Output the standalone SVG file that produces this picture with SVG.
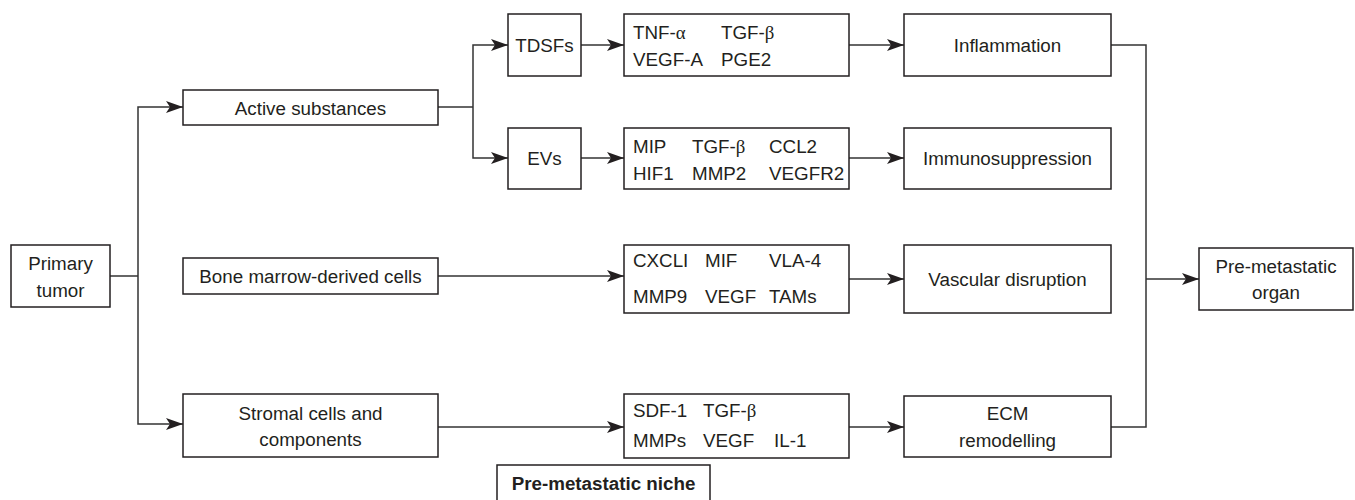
<svg xmlns="http://www.w3.org/2000/svg" width="1355" height="500" viewBox="0 0 1355 500">
<style>
text{font-family:"Liberation Sans",Arial,sans-serif;font-size:18.8px;fill:#231f20}
.c{text-anchor:middle}
.g{font-family:"Liberation Serif","Times New Roman",serif}
.b{font-weight:bold}
rect{fill:#fff;stroke:#231f20;stroke-width:1.5}
.ln{fill:none;stroke:#333;stroke-width:1.5}
</style>
<defs>
<marker id="ah" markerUnits="userSpaceOnUse" markerWidth="18" markerHeight="12" refX="17" refY="6" orient="auto">
<path d="M0,0 L17,6 L0,12 L4,6 Z" fill="#231f20"/>
</marker>
</defs>
<rect width="1355" height="500" style="fill:#fff;stroke:none"/>
<g id="connectors">
<path class="ln" d="M110,276 H138"/>
<path class="ln" d="M138,276 V107 H183" marker-end="url(#ah)"/>
<path class="ln" d="M138,276 V424 H183" marker-end="url(#ah)"/>
<path class="ln" d="M438,107 H473"/>
<path class="ln" d="M473,107 V45 H508" marker-end="url(#ah)"/>
<path class="ln" d="M473,107 V158 H508" marker-end="url(#ah)"/>
<path class="ln" d="M581,45 H624" marker-end="url(#ah)"/>
<path class="ln" d="M581,158 H624" marker-end="url(#ah)"/>
<path class="ln" d="M438,276 H624" marker-end="url(#ah)"/>
<path class="ln" d="M438,427 H624" marker-end="url(#ah)"/>
<path class="ln" d="M849,45 H904" marker-end="url(#ah)"/>
<path class="ln" d="M849,158 H904" marker-end="url(#ah)"/>
<path class="ln" d="M849,279 H904" marker-end="url(#ah)"/>
<path class="ln" d="M849,427 H904" marker-end="url(#ah)"/>
<path class="ln" d="M1111,45 H1146 V427 H1111"/>
<path class="ln" d="M1146,279 H1199" marker-end="url(#ah)"/>
</g>
<g id="primary-tumor">
<rect x="11" y="245" width="99" height="62"/>
<text class="c" x="60.5" y="270">Primary</text>
<text class="c" x="60.5" y="297">tumor</text>
</g>
<g id="active-substances">
<rect x="183" y="90" width="255" height="35"/>
<text class="c" x="310.5" y="115">Active substances</text>
</g>
<g id="bone-marrow">
<rect x="183" y="258" width="255" height="36"/>
<text class="c" x="310.5" y="283">Bone marrow-derived cells</text>
</g>
<g id="stromal">
<rect x="183" y="394" width="255" height="63"/>
<text class="c" x="310.5" y="420">Stromal cells and</text>
<text class="c" x="310.5" y="446">components</text>
</g>
<g id="tdsfs">
<rect x="508" y="14" width="73" height="62"/>
<text class="c" x="544.5" y="52">TDSFs</text>
</g>
<g id="evs">
<rect x="508" y="128" width="73" height="61"/>
<text class="c" x="544.5" y="165">EVs</text>
</g>
<g id="tdsf-factors">
<rect x="624" y="14" width="225" height="62"/>
<text x="633" y="39">TNF-<tspan class="g">α</tspan></text>
<text x="721" y="39">TGF-<tspan class="g">β</tspan></text>
<text x="633" y="66">VEGF-A</text>
<text x="721" y="66">PGE2</text>
</g>
<g id="ev-factors">
<rect x="624" y="128" width="225" height="61"/>
<text x="633" y="153">MIP</text>
<text x="692" y="153">TGF-<tspan class="g">β</tspan></text>
<text x="769" y="153">CCL2</text>
<text x="633" y="180">HIF1</text>
<text x="692" y="180">MMP2</text>
<text x="769" y="180">VEGFR2</text>
</g>
<g id="bmdc-factors">
<rect x="624" y="245" width="225" height="68"/>
<text x="633" y="267">CXCLI</text>
<text x="705" y="267">MIF</text>
<text x="769" y="267">VLA-4</text>
<text x="633" y="303">MMP9</text>
<text x="705" y="303">VEGF</text>
<text x="769" y="303">TAMs</text>
</g>
<g id="stromal-factors">
<rect x="624" y="394" width="225" height="64"/>
<text x="633" y="417">SDF-1</text>
<text x="703" y="417">TGF-<tspan class="g">β</tspan></text>
<text x="633" y="447">MMPs</text>
<text x="703" y="447">VEGF</text>
<text x="774" y="447">IL-1</text>
</g>
<g id="inflammation">
<rect x="904" y="14" width="207" height="62"/>
<text class="c" x="1007.5" y="52">Inflammation</text>
</g>
<g id="immunosuppression">
<rect x="904" y="128" width="207" height="61"/>
<text class="c" x="1007.5" y="165">Immunosuppression</text>
</g>
<g id="vascular">
<rect x="904" y="245" width="207" height="68"/>
<text class="c" x="1007.5" y="286">Vascular disruption</text>
</g>
<g id="ecm">
<rect x="904" y="396" width="207" height="61"/>
<text class="c" x="1007.5" y="420">ECM</text>
<text class="c" x="1007.5" y="447">remodelling</text>
</g>
<g id="pre-metastatic-organ">
<rect x="1199" y="248" width="154" height="62"/>
<text class="c" x="1276" y="273">Pre-metastatic</text>
<text class="c" x="1276" y="299">organ</text>
</g>
<g id="niche-label">
<rect x="497" y="465" width="213" height="45"/>
<text class="c b" x="603.5" y="490">Pre-metastatic niche</text>
</g>
</svg>
